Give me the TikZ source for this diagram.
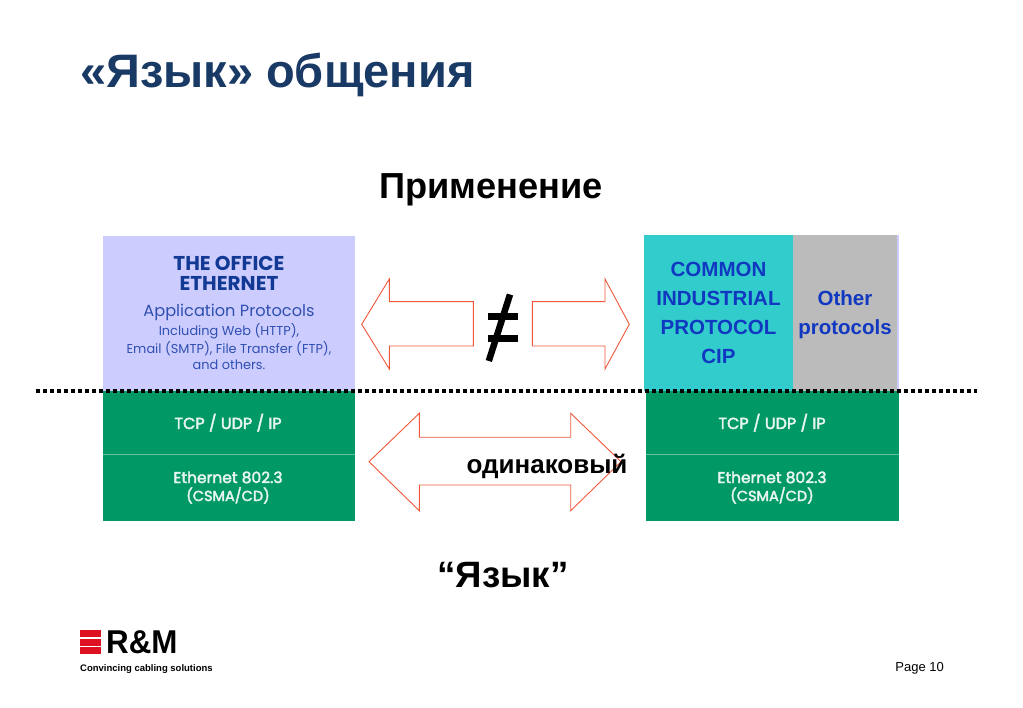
\documentclass[tikz,border=0pt]{standalone}
\usepackage{fontspec}
\setmainfont{Liberation Sans}
\newfontfamily\geo{Poppins}
\newfontfamily\geom[FakeBold=2.5]{Poppins}
\definecolor{titlec}{HTML}{1A3A66}
\definecolor{lav}{HTML}{CCCCFF}
\definecolor{grn}{HTML}{009966}
\definecolor{teal}{HTML}{33CCCC}
\definecolor{grayp}{HTML}{BBBBBB}
\definecolor{navy}{HTML}{123A94}
\definecolor{midb}{HTML}{3050B0}
\definecolor{protoc}{HTML}{1038C0}
\definecolor{arrowc}{HTML}{F0583C}
\definecolor{lineg}{HTML}{66C2A3}
\definecolor{logor}{HTML}{DD1122}
\definecolor{layert}{HTML}{E8F6F0}
\tikzset{
  fs/.style={node font=\fontsize{#1}{#1}\selectfont},
  head/.style={inner sep=0pt,align=center,text=black},
  geotext/.style={inner sep=0pt,align=center},
  proto/.style={inner sep=0pt,align=center,text=protoc,font=\fontsize{20.5}{29}\selectfont\bfseries},
  layer/.style={inner sep=0pt,align=center,text=layert},
  outarrow/.style={draw=arrowc,line width=0.9pt,fill=white,line join=miter},
}
\begin{document}
\begin{tikzpicture}[x=1pt,y=-1pt]
\useasboundingbox (0,0) rectangle (1023,708);
% panels
\fill[lav] (103,236) rectangle (355,391);
\fill[grn] (103,391) rectangle (355,520.5);
\draw[lineg,line width=1pt] (103,455) -- (355,455);
\fill[lav] (793,235) rectangle (899,391);
\fill[teal] (644,235) rectangle (793,391);
\fill[grayp] (793,235) rectangle (897,391);
\fill[grn] (646,391) rectangle (899,520.5);
\draw[lineg,line width=1pt] (646,455) -- (899,455);
% title and headings
\node[inner sep=0pt,anchor=base west,text=titlec,fs=47,font=\bfseries] (title) at (80,88) {«Язык» общения};
\node[head,anchor=base,fs=36.2,font=\bfseries] (app) at (491,199) {Применение};
\node[head,anchor=base,fs=36.7,font=\bfseries] (lang) at (503,587) {“Язык”};
% left panel text
\node[geotext,anchor=base,text=navy,fs=20,font=\geo\bfseries] (o1) at (229,271) {THE OFFICE};
\node[geotext,anchor=base,text=navy,fs=20,font=\geo\bfseries] (o2) at (229,291) {ETHERNET};
\node[geotext,anchor=base,text=midb,fs=16.2,font=\geo] (o3) at (229,317) {Application Protocols};
\node[geotext,anchor=base,text=midb,fs=12.9,font=\geo] (o4) at (229,336) {Including Web (HTTP),};
\node[geotext,anchor=base,text=midb,fs=12.9,font=\geo] (o5) at (229,354) {Email (SMTP), File Transfer (FTP),};
\node[geotext,anchor=base,text=midb,fs=12.9,font=\geo] (o6) at (229,370) {and others.};
% right panel text
\node[proto,anchor=base] (c1) at (718.5,277) {COMMON};
\node[proto,anchor=base] (c2) at (718.5,306) {INDUSTRIAL};
\node[proto,anchor=base] (c3) at (718.5,335) {PROTOCOL};
\node[proto,anchor=base] (c4) at (718.5,364) {CIP};
\node[proto,anchor=base] (p1) at (845,306) {Other};
\node[proto,anchor=base] (p2) at (845,335) {protocols};
% layer text
\foreach \cx/\n in {228/l,772/r}{
  \node[layer,anchor=base,fs=16,font=\geom] (tcp\n) at (\cx,429) {TCP / UDP / IP};
  \node[layer,anchor=base,fs=15.5,font=\geom] (eth\n) at (\cx,483) {Ethernet 802.3};
  \node[layer,anchor=base,fs=14.5,font=\geom] (csma\n) at (\cx,501) {(CSMA/CD)};
}
% dotted rule
\draw[black,line width=4pt,dash pattern=on 4pt off 3pt] (36,391) -- (977,391);
% arrows
\draw[outarrow] (361.7,324.3) -- (389.3,279) -- (389.3,301.7) -- (473.3,301.7) -- (473.3,346) -- (389.3,346) -- (389.3,369) -- cycle;
\draw[outarrow] (629.3,324.3) -- (605,279) -- (605,301.7) -- (532.3,301.7) -- (532.3,346) -- (605,346) -- (605,369) -- cycle;
\draw[outarrow] (369,461.7) -- (419.3,413.3) -- (419.3,437.3) -- (570.7,437.3) -- (570.7,413.3) -- (621,461.7) -- (570.7,510.7) -- (570.7,485) -- (419.3,485) -- (419.3,510.7) -- cycle;
% not-equal sign
\draw[black,line width=7pt] (488,316.5) -- (518,316.5);
\draw[black,line width=7pt] (488,338.5) -- (518,338.5);
\draw[black,line width=6.5pt] (510,294.5) -- (488.8,361);
\node[head,anchor=base,fs=26,font=\bfseries] (same) at (547,473) {одинаковый};
% logo
\fill[logor] (80,629.5) rectangle (101,636.5);
\fill[logor] (80,638.5) rectangle (101,645.5);
\fill[logor] (80,647) rectangle (101,653.5);
\node[inner sep=0pt,anchor=base west,text=black,fs=33,font=\bfseries,xscale=0.95] (rm) at (106,653) {R\&M};
\node[inner sep=0pt,anchor=base west,text=black,fs=9.5,font=\bfseries] (tag) at (80,671) {Convincing cabling solutions};
\node[inner sep=0pt,anchor=base east,text=black,fs=13] (page) at (944,671) {Page 10};
\end{tikzpicture}
\end{document}
